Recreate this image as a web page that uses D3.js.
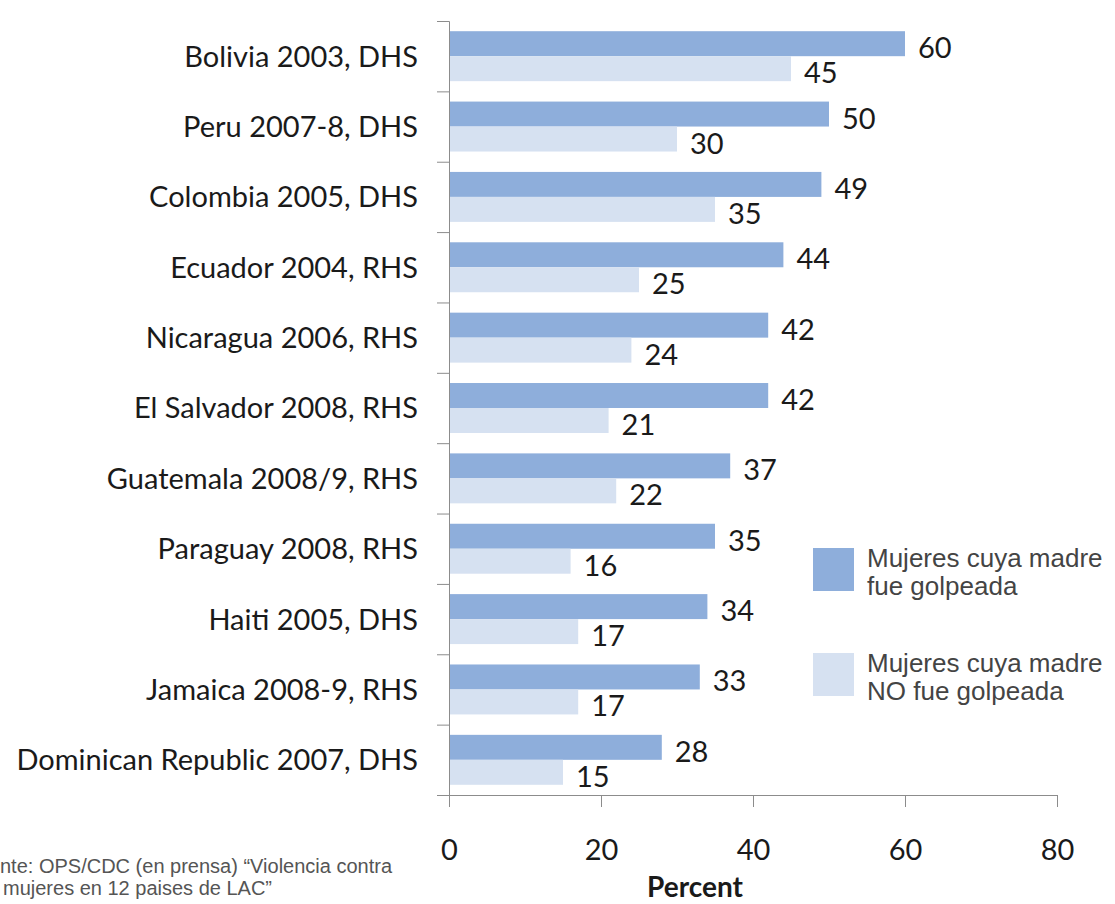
<!DOCTYPE html>
<html>
<head>
<meta charset="utf-8">
<script src="https://cdn.jsdelivr.net/npm/d3@7"></script>
<style>
body { margin: 0; background: #fff; }
.container svg { display: block; }
</style>
</head>
<body>
<div class="container"></div>
<script>
// data
var countries = ["Bolivia 2003, DHS", "Peru 2007-8, DHS", "Colombia 2005, DHS", "Ecuador 2004, RHS",
	"Nicaragua 2006, RHS", "El Salvador 2008, RHS", "Guatemala 2008/9, RHS", "Paraguay 2008, RHS",
	"Haiti 2005, DHS", "Jamaica 2008-9, RHS", "Dominican Republic 2007, DHS"];
var golpeada = [60, 50, 49, 44, 42, 42, 37, 35, 34, 33, 28];
var noGolpeada = [45, 30, 35, 25, 24, 21, 22, 16, 17, 17, 15];
var seriesNames = ["golpeada", "noGolpeada"];
var legendLabels = [["Mujeres cuya madre", "fue golpeada"], ["Mujeres cuya madre", "NO fue golpeada"]];
var xTicks = [0, 20, 40, 60, 80];
// the source note is cut at the left edge in the original, only the visible part is kept
var sourceLines = ["nte: OPS/CDC (en prensa) \u201cViolencia contra", "mujeres en 12 paises de LAC\u201d"];

var W = 1115, H = 904;
var colors = { golpeada: "#8eaedb", noGolpeada: "#d6e1f1" };
var axisColor = "#8c8c8c";
var labelFont = "Lato, 'Open Sans', sans-serif";

function makeStage(w, h) {
	var stage = d3.select(".container")
	.insert("svg")
	.attr("width", w)
	.attr("height", h);
	return stage;
}

var stage = makeStage(W, H);

var x = d3.scaleLinear().domain([0, 80]).range([449, 1057]);
var y = d3.scaleBand().domain(countries).range([21, 795]).paddingInner(0.29).paddingOuter(0.145);
var ySub = d3.scaleBand().domain(seriesNames).range([0, y.bandwidth()]);
// ticks on the y axis sit between the categories, not on them
var yEdges = d3.scaleLinear().domain([0, countries.length]).range([21, 795]);

var rows = countries.map(function(c, i) { return { name: c, golpeada: golpeada[i], noGolpeada: noGolpeada[i] }; });

// bars
var groups = stage.selectAll("g.row")
	.data(rows)
	.enter().append("g")
	.attr("class", "row")
	.attr("transform", function(d) { return "translate(0," + y(d.name) + ")"; });

groups.selectAll("rect")
	.data(function(d) { return seriesNames.map(function(s) { return { key: s, value: d[s] }; }); })
	.enter().append("rect")
	.attr("x", x(0))
	.attr("y", function(d) { return ySub(d.key); })
	.attr("width", function(d) { return x(d.value) - x(0); })
	.attr("height", ySub.bandwidth())
	.style("fill", function(d) { return colors[d.key]; });

// value labels, baseline near the bottom of each bar
groups.selectAll("text.val")
	.data(function(d) { return seriesNames.map(function(s) { return { key: s, value: d[s] }; }); })
	.enter().append("text")
	.attr("class", "val")
	.attr("x", function(d) { return x(d.value) + 13; })
	.attr("y", function(d) { return ySub(d.key) + ySub.bandwidth() + 2; })
	.style("font-family", labelFont)
	.style("font-size", "29px")
	.style("fill", "#1a1a1a")
	.text(function(d) { return d.value; });

// category labels
stage.selectAll("text.cat")
	.data(countries)
	.enter().append("text")
	.attr("class", "cat")
	.attr("x", 418)
	.attr("y", function(d) { return y(d) + y.bandwidth() / 2; })
	.attr("dy", "0.36em")
	.attr("text-anchor", "end")
	.style("font-family", labelFont)
	.style("font-size", "29px")
	.style("fill", "#1a1a1a")
	.text(function(d) { return d; });

// y axis
var yAxis = stage.append("g")
	.attr("transform", "translate(" + x(0) + ",0)")
	.call(d3.axisLeft(yEdges).ticks(countries.length).tickSize(12).tickFormat(""));

// x axis
var xAxis = stage.append("g")
	.attr("transform", "translate(0,795)")
	.call(d3.axisBottom(x).tickValues(xTicks).tickSize(12).tickPadding(32));
xAxis.selectAll("text")
	.style("font-family", labelFont)
	.style("font-size", "29px")
	.style("fill", "#1a1a1a");

stage.selectAll(".domain, .tick line").attr("stroke", axisColor);

stage.append("text")
	.attr("x", 695)
	.attr("y", 897)
	.attr("text-anchor", "middle")
	.style("font-family", labelFont)
	.style("font-size", "28px")
	.style("font-weight", "bold")
	.style("fill", "#1a1a1a")
	.text("Percent");

// legend
var legendTop = [548, 653];
var legend = stage.selectAll("g.legend")
	.data(seriesNames)
	.enter().append("g")
	.attr("class", "legend")
	.attr("transform", function(d, i) { return "translate(813," + legendTop[i] + ")"; });

legend.append("rect")
	.attr("width", 41)
	.attr("height", 43)
	.style("fill", function(d) { return colors[d]; });

legend.each(function(d, i) {
	d3.select(this).selectAll("text")
	.data(legendLabels[i])
	.enter().append("text")
	.attr("x", 54)
	.attr("y", function(t, j) { return 19 + j * 28; })
	.style("font-family", "'Liberation Sans', Arial, sans-serif")
	.style("font-size", "26px")
	.style("fill", "#444")
	.text(function(t) { return t; });
});

// source note
stage.selectAll("text.src")
	.data(sourceLines)
	.enter().append("text")
	.attr("class", "src")
	.attr("x", function(d, i) { return i * 3; })
	.attr("y", function(d, i) { return 873 + i * 22; })
	.style("font-family", "'Liberation Sans', Arial, sans-serif")
	.style("font-size", "20px")
	.style("fill", "#555")
	.text(function(d) { return d; });
</script>
</body>
</html>
